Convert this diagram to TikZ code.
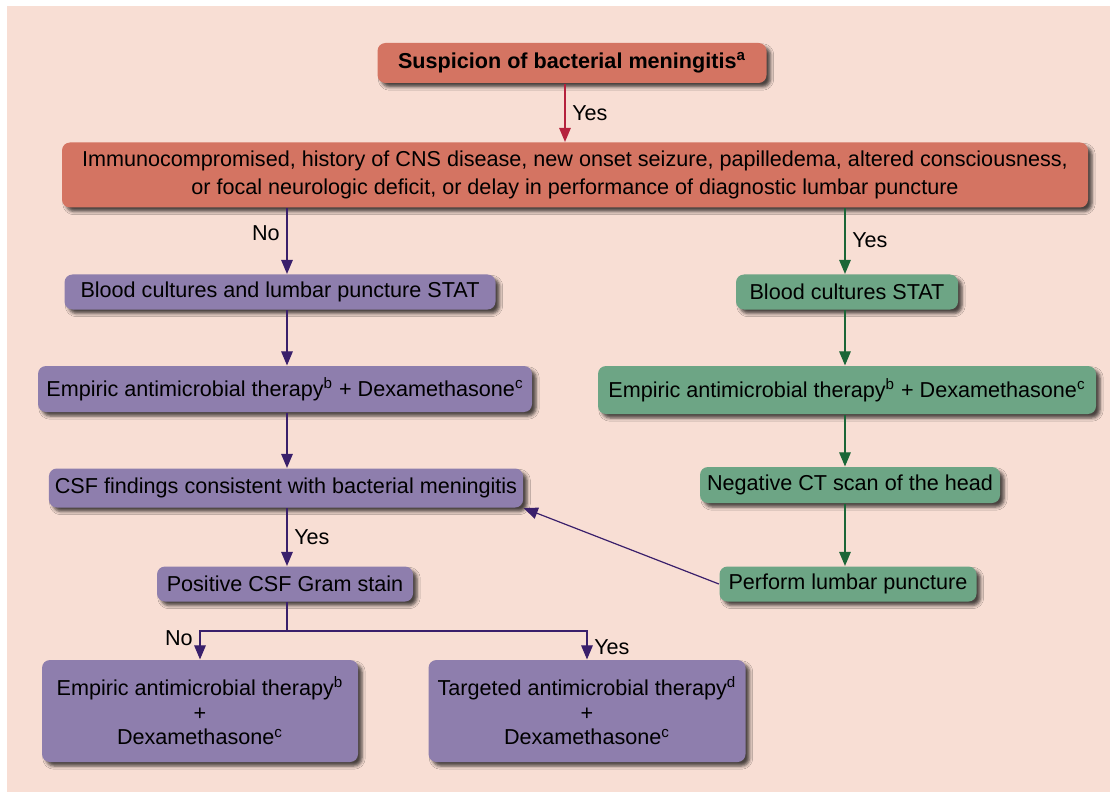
\documentclass[tikz,border=0pt]{standalone}
\usepackage{fontspec}
\setmainfont{Liberation Sans}
\usepackage{tikz}
\usetikzlibrary{arrows,shadows.blur}

\definecolor{bgpink}{HTML}{F8DED4}
\definecolor{salmon}{HTML}{D47462}
\definecolor{lilac}{HTML}{8E7EAD}
\definecolor{sage}{HTML}{6DA585}
\definecolor{redline}{HTML}{B5213D}
\definecolor{violetline}{HTML}{3A1F6B}
\definecolor{greenline}{HTML}{1B6637}

\newcommand{\flowfont}{\fontsize{10.8}{13.5}\selectfont}

\begin{document}
\begin{tikzpicture}[x=0.5pt,y=-0.5pt,->,>=triangle 45,line width=0.6pt,auto]
	\tikzstyle{box}=[rounded corners=4pt,inner sep=3pt,minimum height=17.5pt,align=center,font=\flowfont,
		blur shadow={shadow xshift=2pt,shadow yshift=-2pt,shadow blur radius=1.6pt,shadow opacity=70}]
	\tikzstyle{redbox}=[box,fill=salmon]
	\tikzstyle{purplebox}=[box,fill=lilac]
	\tikzstyle{greenbox}=[box,fill=sage]

	\useasboundingbox (0,0) rectangle (1110,792);
	\fill[bgpink,draw=none] (7,6) rectangle (1110,792);

	\node[redbox,minimum width=194.5pt,minimum height=20pt,font=\flowfont\bfseries] (suspect) at (572,63) {Suspicion of bacterial meningitis\textsuperscript{a}};
	\node[redbox,minimum width=513pt,minimum height=32.5pt,font=\fontsize{10.8}{14}\selectfont] (risk) at (575,175)
		{Immunocompromised, history of CNS disease, new onset seizure, papilledema, altered consciousness,\\
		 or focal neurologic deficit, or delay in performance of diagnostic lumbar puncture};

	% left branch
	\node[purplebox,minimum width=215.5pt] (lcult) at (280,292) {Blood cultures and lumbar puncture STAT};
	\node[purplebox,minimum width=247pt,minimum height=23pt] (ltherapy) at (285,389) {Empiric antimicrobial therapy\textsuperscript{b} + Dexamethasone\textsuperscript{c}};
	\node[purplebox,minimum width=234pt,minimum height=19.5pt] (csf) at (286,488) {CSF findings consistent with bacterial meningitis};
	\node[purplebox,minimum width=128pt] (gram) at (285,584) {Positive CSF Gram stain};
	\node[purplebox,minimum width=158pt,minimum height=51pt,font=\fontsize{10.8}{12.3}\selectfont] (empiric) at (200,711)
		{Empiric antimicrobial therapy\textsuperscript{b}\\+\\Dexamethasone\textsuperscript{c}};
	\node[purplebox,minimum width=158.5pt,minimum height=51pt,font=\fontsize{10.8}{12.3}\selectfont] (targeted) at (587,711)
		{Targeted antimicrobial therapy\textsuperscript{d}\\+\\Dexamethasone\textsuperscript{c}};

	% right branch
	\node[greenbox,minimum width=111pt] (rcult) at (847,292) {Blood cultures STAT};
	\node[greenbox,minimum width=249pt,minimum height=24pt] (rtherapy) at (847,390) {Empiric antimicrobial therapy\textsuperscript{b} + Dexamethasone\textsuperscript{c}};
	\node[greenbox,minimum width=150pt,minimum height=18pt] (ct) at (850,485) {Negative CT scan of the head};
	\node[greenbox,minimum width=128.5pt] (lp) at (848,584) {Perform lumbar puncture};

	\coordinate (topx) at (565,0);
	\coordinate (lx) at (287,0);
	\coordinate (rx) at (845,0);
	\coordinate (fork) at (287,631);

	\path[redline] (suspect.south -| topx) edge node[text=black,font=\flowfont] {Yes} (risk.north -| topx);

	\path[violetline,every node/.style={text=black,font=\flowfont}]
	      (risk.south -| lx) edge [swap] node[pos=0.38] {No} (lcult.north -| lx)
	      (lcult.south -| lx) edge (ltherapy.north -| lx)
	      (ltherapy.south -| lx) edge (csf.north -| lx)
	      (csf.south -| lx) edge node {Yes} (gram.north -| lx)
	      (lp.west) edge (csf.south east);

	\path[greenline,every node/.style={text=black,font=\flowfont}]
	      (risk.south -| rx) edge node[pos=0.48] {Yes} (rcult.north -| rx)
	      (rcult.south -| rx) edge (rtherapy.north -| rx)
	      (rtherapy.south -| rx) edge (ct.north -| rx)
	      (ct.south -| rx) edge (lp.north -| rx);

	% gram stain fork
	\draw[violetline,-] (gram.south -| lx) -- (fork);
	\draw[violetline] (fork) -| node[pos=0.62,left,text=black,font=\flowfont] {No} (empiric.north);
	\draw[violetline] (fork) -| node[pos=0.78,right,text=black,font=\flowfont] {Yes} (targeted.north);
\end{tikzpicture}
\end{document}
